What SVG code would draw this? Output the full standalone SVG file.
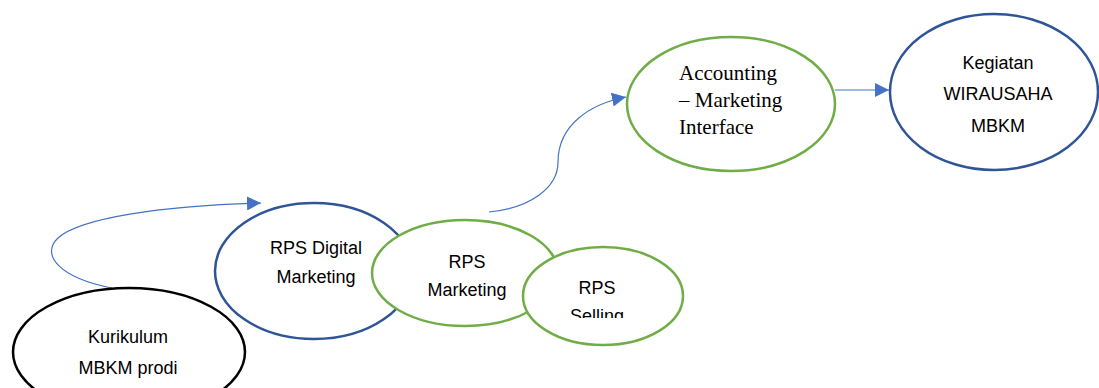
<svg xmlns="http://www.w3.org/2000/svg" width="1099" height="388" viewBox="0 0 1099 388">
  <style>
    .node { fill: #ffffff; stroke-width: 2.5; }
    .blue { stroke: #2F5597; }
    .green { stroke: #70AD47; }
    .black { stroke: #000000; }
    .label { font-family: "Liberation Sans", Arial, sans-serif; font-size: 18px; fill: #000000; text-anchor: middle; }
    .serif { font-family: "Liberation Serif", "Times New Roman", serif; font-size: 21px; fill: #000000; }
    .conn { fill: none; stroke: #4472C4; stroke-width: 1.2; }
  </style>
  <defs>
    <marker id="arrow" viewBox="0 0 10 10" refX="10" refY="5" markerWidth="14" markerHeight="14" markerUnits="userSpaceOnUse" orient="auto">
      <path d="M0,0 L10,5 L0,10 z" fill="#4472C4"/>
    </marker>
    <clipPath id="sellingClip">
      <rect x="520" y="240" width="170" height="78"/>
    </clipPath>
  </defs>
  <rect width="1099" height="388" fill="#ffffff"/>

  <g id="connectors">
    <path class="conn" d="M112,288 C 60,278 40,255 58,238 C 80,218 160,206 261,203" marker-end="url(#arrow)"/>
    <path class="conn" d="M489,212 C 530,208 558,188 558,162 C 558,125 590,104 626,97" marker-end="url(#arrow)"/>
    <path class="conn" d="M835,90 L889,90" marker-end="url(#arrow)"/>
  </g>

  <g id="kurikulum">
    <ellipse class="node black" cx="129" cy="352" rx="116" ry="64"/>
    <text class="label" x="128" y="343">Kurikulum</text>
    <text class="label" x="128" y="374">MBKM prodi</text>
  </g>

  <g id="rps-digital">
    <ellipse class="node blue" cx="314" cy="271" rx="99" ry="68"/>
    <text class="label" x="316" y="254">RPS Digital</text>
    <text class="label" x="316" y="283">Marketing</text>
  </g>

  <g id="rps-marketing">
    <ellipse class="node green" cx="465" cy="273" rx="93" ry="53"/>
    <text class="label" x="467" y="268">RPS</text>
    <text class="label" x="467" y="296">Marketing</text>
  </g>

  <g id="rps-selling">
    <ellipse class="node green" cx="603" cy="296" rx="80" ry="49"/>
    <text class="label" x="597" y="294">RPS</text>
    <text class="label" x="597" y="322" clip-path="url(#sellingClip)">Selling</text>
  </g>

  <g id="accounting">
    <ellipse class="node green" cx="731" cy="104" rx="104" ry="67"/>
    <text class="serif" x="679" y="80">Accounting</text>
    <text class="serif" x="679" y="107">– Marketing</text>
    <text class="serif" x="679" y="134">Interface</text>
  </g>

  <g id="kegiatan">
    <ellipse class="node blue" cx="994" cy="92" rx="104" ry="78"/>
    <text class="label" x="998" y="69">Kegiatan</text>
    <text class="label" x="998" y="100">WIRAUSAHA</text>
    <text class="label" x="998" y="132">MBKM</text>
  </g>
</svg>
